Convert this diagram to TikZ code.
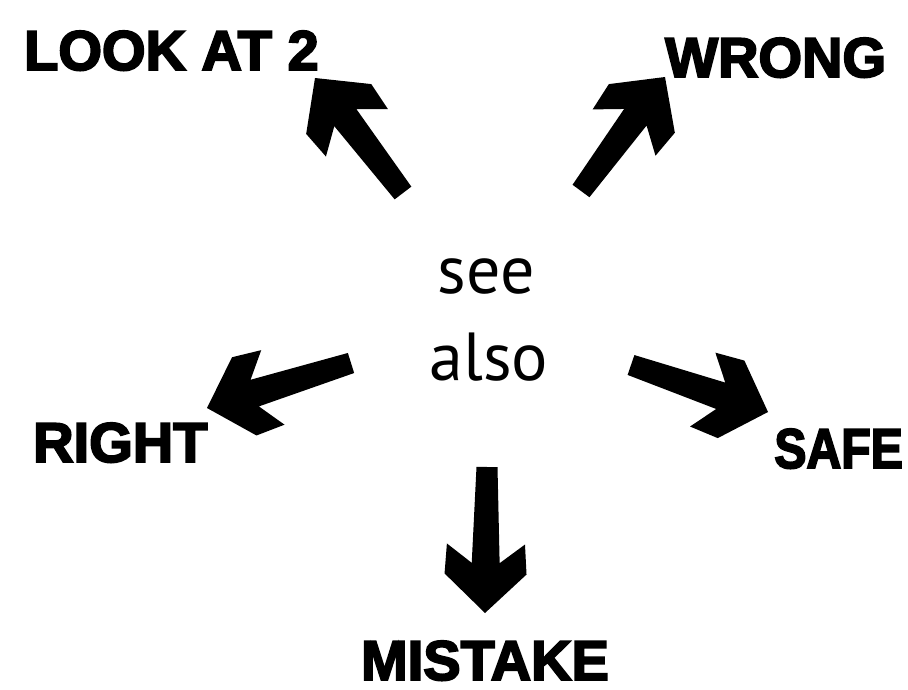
\documentclass[tikz,border=0pt]{standalone}
\usepackage{fontspec}
\usetikzlibrary{calc}
\newfontfamily\wordfont[BoldFeatures={FakeBold=3.5}]{Liberation Sans}
\newfontfamily\seefont{PT Sans}
% fat arrow: #1 tail, #2 tip
\newcommand{\fatarrow}[2]{%
  \fill ($(#1)!10.5pt!90:(#2)$) -- ($(#2)!51.9pt!-15.6:(#1)$)
    -- ($(#2)!79.3pt!-29.5:(#1)$) -- ($(#2)!56.6pt!-46.4:(#1)$) -- (#2)
    -- ($(#2)!56.6pt!46.4:(#1)$) -- ($(#2)!79.3pt!29.5:(#1)$)
    -- ($(#2)!51.9pt!15.6:(#1)$) -- ($(#1)!10.5pt!-90:(#2)$) -- cycle;}
\tikzset{
  word/.style={inner sep=0pt, font=\wordfont\bfseries\fontsize{56}{56}\selectfont},
  seealso/.style={inner sep=0pt, font=\seefont\fontsize{68}{68}\selectfont}
}
\begin{document}
\begin{tikzpicture}[x=1pt,y=-1pt]
  \useasboundingbox (0,0) rectangle (908,690);
  % labels
  \node[word, anchor=base west] (lookat) at (24,70) {LOOK AT 2};
  \node[word, anchor=base west] (wrong) at (665,77) {WRONG};
  \node[word, anchor=base west] (right) at (33,462) {RIGHT};
  \node[word, anchor=base east] (safe) at (903,468) {\scalebox{0.86}[1]{SAFE}};
  \node[word, anchor=base] (mistake) at (485,680) {MISTAKE};
  \node[seealso, anchor=base] (see) at (486,293) {see};
  \node[seealso, anchor=base] (also) at (489,380) {also};
  % arrow ends
  \coordinate (nwtail) at (403,193);  \coordinate (nwtip) at (315,78);
  \coordinate (netail) at (581,191);  \coordinate (netip) at (665,77);
  \coordinate (wtail) at (351,363);   \coordinate (wtip) at (207,408);
  \coordinate (etail) at (631,365);   \coordinate (etip) at (768,412);
  \coordinate (stail) at (487,467);   \coordinate (stip) at (485,613);
  \fatarrow{nwtail}{nwtip}
  \fatarrow{netail}{netip}
  \fatarrow{wtail}{wtip}
  \fatarrow{etail}{etip}
  \fatarrow{stail}{stip}
\end{tikzpicture}
\end{document}
